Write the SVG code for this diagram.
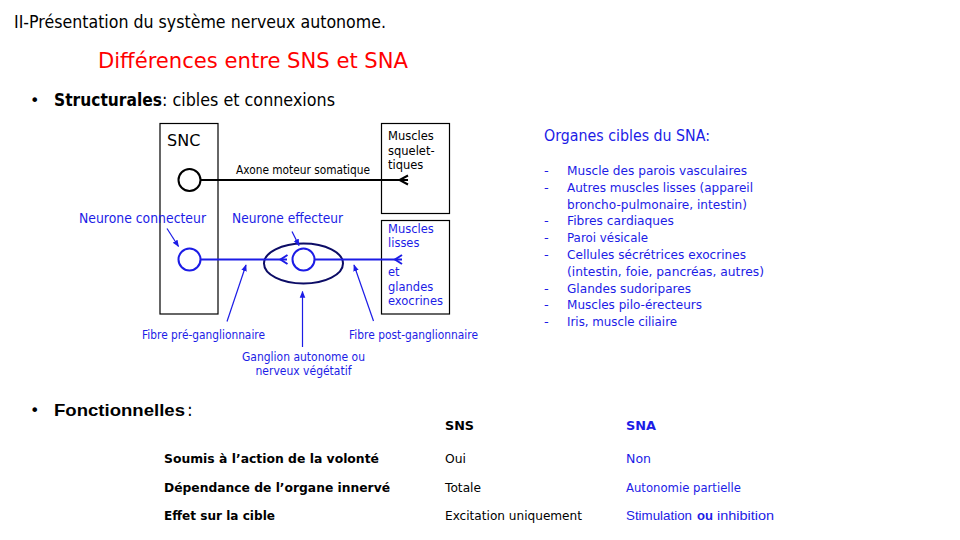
<svg xmlns="http://www.w3.org/2000/svg" width="960" height="540" viewBox="0 0 960 540">
  <style>
    text { font-family: "DejaVu Sans", "Liberation Sans", sans-serif; }
    .narrow { font-family: "Liberation Sans", "DejaVu Sans", sans-serif; }
    .blk { fill: #000; }
    .blu { fill: #1c1ce6; }
    .b { font-weight: bold; }
    .box { fill: none; stroke: #000; stroke-width: 1.2; }
    .axon { fill: none; stroke: #000; stroke-width: 2; }
    .baxon { fill: none; stroke: #1c1ce6; stroke-width: 2; }
    .ptr { fill: none; stroke: #1c1ce6; stroke-width: 1.2; marker-end: url(#head); }
    .s12 { font-size: 11.5px; }
    .s13 { font-size: 13px; }
    .s14 { font-size: 13.5px; }
  </style>
  <defs>
    <marker id="head" viewBox="0 0 10 10" refX="9" refY="5" markerWidth="7" markerHeight="7" markerUnits="userSpaceOnUse" orient="auto">
      <path d="M0,1 L10,5 L0,9 Z" fill="#1c1ce6"/>
    </marker>
  </defs>

  <rect width="960" height="540" fill="#fff"/>

  <!-- headings -->
  <g id="headings">
    <text x="14" y="28" font-size="17" class="blk" textLength="372" lengthAdjust="spacingAndGlyphs">II-Présentation du système nerveux autonome.</text>
    <text x="98" y="68" font-size="22" fill="#ff0000" textLength="310" lengthAdjust="spacingAndGlyphs">Différences entre SNS et SNA</text>
    <text x="30" y="106" font-size="16" class="blk">•</text>
    <text x="54" y="106" font-size="17" class="blk b" textLength="108" lengthAdjust="spacingAndGlyphs">Structurales</text>
    <text x="162" y="106" font-size="17" class="blk" textLength="173" lengthAdjust="spacingAndGlyphs">: cibles et connexions</text>
  </g>

  <!-- SNC box -->
  <g id="snc">
    <rect class="box" x="160" y="123.5" width="58" height="190.5"/>
    <text x="167" y="146" font-size="16" class="blk">SNC</text>
  </g>

  <!-- target boxes -->
  <g id="muscles-squelettiques">
    <rect class="box" x="381.5" y="123.5" width="68" height="90"/>
    <text x="388" y="140" class="s12 blk">Muscles</text>
    <text x="388" y="155" class="s12 blk">squelet-</text>
    <text x="388" y="169" class="s12 blk">tiques</text>
  </g>
  <g id="muscles-lisses">
    <rect class="box" x="381.5" y="220.5" width="68" height="93.5"/>
    <text x="388" y="233" class="s12 blu">Muscles</text>
    <text x="388" y="247" class="s12 blu">lisses</text>
    <text x="388" y="276" class="s12 blu">et</text>
    <text x="388" y="291" class="s12 blu">glandes</text>
    <text x="388" y="305" class="s12 blu">exocrines</text>
  </g>

  <!-- neurons -->
  <g id="neurone-somatique">
    <circle cx="189.5" cy="180" r="11" fill="#fff" stroke="#000" stroke-width="2"/>
  </g>
  <g id="neurone-connecteur">
    <circle cx="189.5" cy="259.5" r="11" fill="#fff" stroke="#1c1ce6" stroke-width="2"/>
    <text x="79" y="223" class="s14 blu" textLength="127" lengthAdjust="spacingAndGlyphs">Neurone connecteur</text>
  </g>
  <g id="ganglion">
    <ellipse cx="303.5" cy="263.5" rx="39.5" ry="20" fill="none" stroke="#0c0c66" stroke-width="2"/>
  </g>
  <g id="neurone-effecteur">
    <circle cx="303.5" cy="259.5" r="11" fill="none" stroke="#1c1ce6" stroke-width="2"/>
    <text x="232" y="223" class="s14 blu" textLength="111" lengthAdjust="spacingAndGlyphs">Neurone effecteur</text>
  </g>

  <!-- connectors -->
  <g id="connectors">
    <path class="axon" d="M200.5,180 H408"/>
    <path class="axon" d="M408,175.5 L399.5,180 L408,184.5"/>
    <text x="236" y="174" class="s12 blk" textLength="134" lengthAdjust="spacingAndGlyphs">Axone moteur somatique</text>

    <path class="baxon" d="M200.5,259.5 H287"/>
    <path class="baxon" d="M287.5,255 L280.5,259.5 L287.5,264"/>
    <path class="baxon" d="M314.5,259.5 H402"/>
    <path class="baxon" d="M402,255 L395,259.5 L402,264"/>

    <path class="ptr" d="M167,228.5 L178.5,246.5"/>
    <path class="ptr" d="M292,231.5 L299,245.5"/>
    <path class="ptr" d="M227,321.5 L246,265"/>
    <path class="ptr" d="M302.5,347 V291.5"/>
    <path class="ptr" d="M373.5,321 L354,265"/>

    <text x="142" y="339" class="s12 blu" textLength="123" lengthAdjust="spacingAndGlyphs">Fibre pré-ganglionnaire</text>
    <text x="349" y="339" class="s12 blu" textLength="129" lengthAdjust="spacingAndGlyphs">Fibre post-ganglionnaire</text>
    <text x="303.5" y="361" class="s12 blu" text-anchor="middle" textLength="123" lengthAdjust="spacingAndGlyphs">Ganglion autonome ou</text>
    <text x="303.5" y="375" class="s12 blu" text-anchor="middle" textLength="96" lengthAdjust="spacingAndGlyphs">nerveux végétatif</text>
  </g>

  <!-- target organ list -->
  <g id="organes-cibles" class="blu">
    <text x="544" y="141" font-size="15" textLength="166" lengthAdjust="spacingAndGlyphs">Organes cibles du SNA:</text>
    <g class="s13">
      <text x="544" y="175">-</text>
      <text x="567" y="175" textLength="180" lengthAdjust="spacingAndGlyphs">Muscle des parois vasculaires</text>
      <text x="544" y="192">-</text>
      <text x="567" y="192" textLength="186" lengthAdjust="spacingAndGlyphs">Autres muscles lisses  (appareil</text>
      <text x="567" y="209" textLength="180" lengthAdjust="spacingAndGlyphs">broncho-pulmonaire, intestin)</text>
      <text x="544" y="225">-</text>
      <text x="567" y="225" textLength="107" lengthAdjust="spacingAndGlyphs">Fibres cardiaques</text>
      <text x="544" y="242">-</text>
      <text x="567" y="242" textLength="81" lengthAdjust="spacingAndGlyphs">Paroi vésicale</text>
      <text x="544" y="259">-</text>
      <text x="567" y="259" textLength="179" lengthAdjust="spacingAndGlyphs">Cellules sécrétrices exocrines</text>
      <text x="567" y="276" textLength="197" lengthAdjust="spacingAndGlyphs">(intestin, foie, pancréas, autres)</text>
      <text x="544" y="293">-</text>
      <text x="567" y="293" textLength="124" lengthAdjust="spacingAndGlyphs">Glandes sudoripares</text>
      <text x="544" y="309">-</text>
      <text x="567" y="309" textLength="135" lengthAdjust="spacingAndGlyphs">Muscles pilo-érecteurs</text>
      <text x="544" y="326">-</text>
      <text x="567" y="326" textLength="110" lengthAdjust="spacingAndGlyphs">Iris, muscle ciliaire</text>
    </g>
  </g>

  <!-- functional comparison -->
  <g id="fonctionnelles">
    <text x="30" y="416" font-size="16" class="blk">•</text>
    <text x="54" y="416" font-size="17" class="narrow blk b" textLength="131" lengthAdjust="spacingAndGlyphs">Fonctionnelles</text>
    <text x="187" y="416" font-size="17" class="blk">:</text>
    <text x="445" y="430" class="s13 blk b" textLength="29" lengthAdjust="spacingAndGlyphs">SNS</text>
    <text x="626" y="430" class="s13 blu b" textLength="30" lengthAdjust="spacingAndGlyphs">SNA</text>

    <text x="164" y="463" class="s13 blk b" textLength="215" lengthAdjust="spacingAndGlyphs">Soumis à l’action de la volonté</text>
    <text x="445" y="463" class="s13 blk" textLength="21" lengthAdjust="spacingAndGlyphs">Oui</text>
    <text x="626" y="463" class="s13 blu" textLength="25" lengthAdjust="spacingAndGlyphs">Non</text>

    <text x="164" y="492" class="s13 blk b" textLength="226" lengthAdjust="spacingAndGlyphs">Dépendance de l’organe innervé</text>
    <text x="445" y="492" class="s13 blk" textLength="36" lengthAdjust="spacingAndGlyphs">Totale</text>
    <text x="626" y="492" class="s13 blu" textLength="115" lengthAdjust="spacingAndGlyphs">Autonomie partielle</text>

    <text x="164" y="520" class="s13 blk b" textLength="111" lengthAdjust="spacingAndGlyphs">Effet sur la cible</text>
    <text x="445" y="520" class="s13 blk" textLength="137" lengthAdjust="spacingAndGlyphs">Excitation uniquement</text>
    <text x="626" y="520" class="s13 narrow blu" textLength="66" lengthAdjust="spacingAndGlyphs">Stimulation</text>
    <text x="697" y="520" class="s13 narrow blu b" textLength="16" lengthAdjust="spacingAndGlyphs">ou</text>
    <text x="717" y="520" class="s13 narrow blu" textLength="57" lengthAdjust="spacingAndGlyphs">inhibition</text>
  </g>
</svg>
